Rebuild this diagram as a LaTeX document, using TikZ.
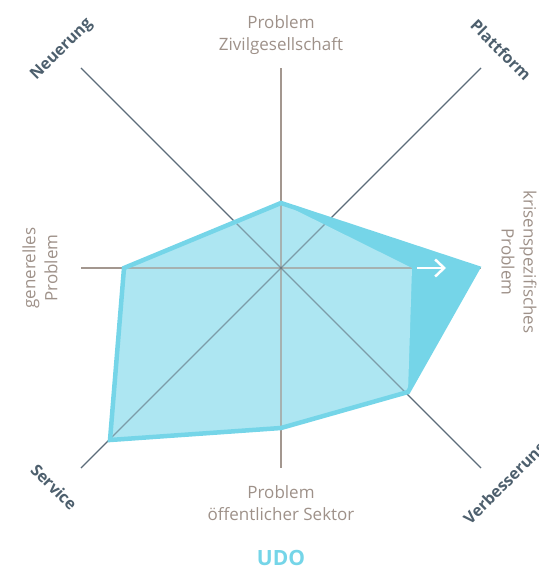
\documentclass[tikz,border=0pt]{standalone}
\usepackage{fontspec}
\setmainfont{Open Sans}
\usetikzlibrary{arrows.meta}
\definecolor{txtbrown}{HTML}{9E9189}
\definecolor{slate}{HTML}{4D5F6D}
\definecolor{axisbrown}{HTML}{A3978F}
\definecolor{axisslate}{HTML}{5C6C79}
\definecolor{cyandark}{HTML}{75D5E8}
\definecolor{cyanlight}{HTML}{ADE6F2}
\begin{document}
\begin{tikzpicture}[x=1pt,y=-1pt,
  axislbl/.style={text=txtbrown, font=\fontsize{17}{22}\selectfont, align=center, inner sep=0pt},
  diaglbl/.style={text=slate, font=\fontsize{16}{19}\selectfont\bfseries, inner sep=0pt},
  straightax/.style={draw=axisbrown, line width=1.1pt},
  diagax/.style={draw=axisslate, line width=1.1pt},
  outerpoly/.style={fill=cyandark},
  innerpoly/.style={fill=cyanlight},
  polyline/.style={draw=cyandark, line width=4.5pt, line join=miter},
  arrowmark/.style={draw=white, line width=2.5pt, -{Straight Barb[length=9pt,width=17pt]}},
]
\useasboundingbox (0,0) rectangle (538,572);
% axes
\coordinate (c) at (281,268);
\coordinate (aN) at (281,68);
\coordinate (aS) at (281,468);
\coordinate (aW) at (81,268);
\coordinate (aE) at (481,268);
\coordinate (aNW) at (81,68);
\coordinate (aNE) at (481,68);
\coordinate (aSW) at (81,468);
\coordinate (aSE) at (481,468);
% polygon points
\coordinate (pN) at (281,203);
\coordinate (pE) at (478,268);
\coordinate (pSE) at (408,392);
\coordinate (pS) at (281,428);
\coordinate (pSW) at (110,440);
\coordinate (pW) at (124,268);
\coordinate (qE) at (412,268);
% axis lines
\draw[straightax] (c) -- (aN);
\draw[straightax] (c) -- (aS);
\draw[straightax] (c) -- (aW);
\draw[straightax] (c) -- (aE);
\draw[diagax] (c) -- (aNW);
\draw[diagax] (c) -- (aNE);
\draw[diagax] (c) -- (aSW);
\draw[diagax] (c) -- (aSE);
% polygons
\path[outerpoly] (pN) -- (pE) -- (pSE) -- (pS) -- (pSW) -- (pW) -- cycle;
\path[innerpoly] (pN) -- (qE) -- (pSE) -- (pS) -- (pSW) -- (pW) -- cycle;
\begin{scope}
\clip (pN) -- (qE) -- (pSE) -- (pS) -- (pSW) -- (pW) -- cycle;
\draw[straightax, opacity=0.65] (c) -- (aN);
\draw[straightax, opacity=0.65] (c) -- (aS);
\draw[straightax, opacity=0.65] (c) -- (aW);
\draw[straightax, opacity=0.65] (c) -- (aE);
\draw[diagax, opacity=0.6] (c) -- (aNW);
\draw[diagax, opacity=0.6] (c) -- (aNE);
\draw[diagax, opacity=0.6] (c) -- (aSW);
\draw[diagax, opacity=0.6] (c) -- (aSE);
\end{scope}
\draw[polyline] (pN) -- (pE) -- (pSE) -- (pS) -- (pSW) -- (pW) -- cycle;
% arrow
\coordinate (arrA) at (417,268);
\coordinate (arrB) at (446,268);
\draw[arrowmark] (arrA) -- (arrB);
% labels
\node[axislbl] (lN) at (281,35) {Problem\\Zivilgesellschaft};
\node[axislbl] (lS) at (281,503) {Problem\\öffentlicher Sektor};
\node[axislbl, rotate=90] (lW) at (40,268) {generelles\\Problem};
\node[axislbl, rotate=-90] (lE) at (519,262) {krisenspezifisches\\Problem};
\node[diaglbl, rotate=45] (lNW) at (62,50) {Neuerung};
\node[diaglbl, rotate=-45] (lNE) at (501,50) {Plattform};
\node[diaglbl, rotate=-45] (lSW) at (54,487) {Service};
\node[diaglbl, rotate=45] (lSE) at (506,484) {Verbesserung};
\node[text=cyandark, font=\fontsize{21}{25}\selectfont\bfseries, inner sep=0pt] (udo) at (281,558) {UDO};
\end{tikzpicture}
\end{document}
